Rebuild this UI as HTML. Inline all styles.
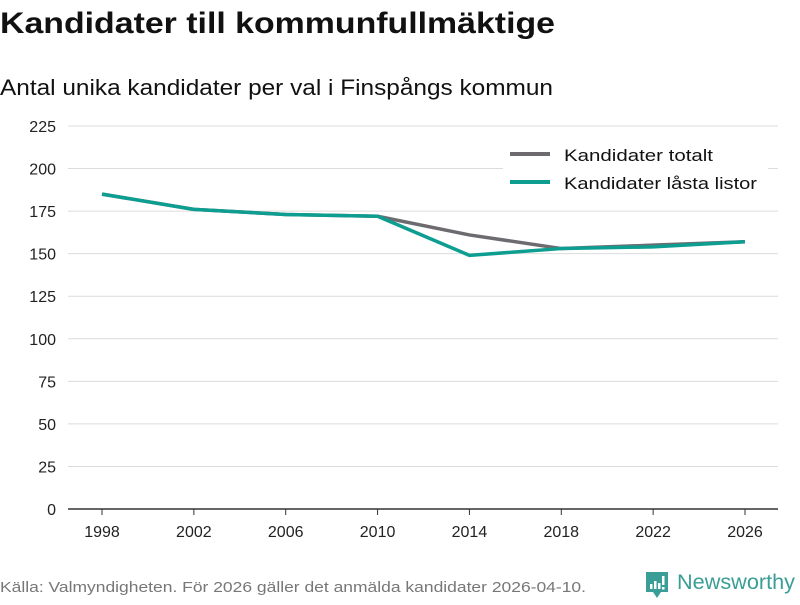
<!DOCTYPE html>
<html><head><meta charset="utf-8"><style>
html,body{margin:0;padding:0;background:#fff;}
svg text{font-family:"Liberation Sans","DejaVu Sans",sans-serif;}
</style></head><body>
<svg id="chart" width="800" height="600" viewBox="0 0 800 600">
<text x="0" y="33" font-size="30" font-weight="bold" fill="#111" textLength="555" lengthAdjust="spacingAndGlyphs">Kandidater till kommunfullmäktige</text>
<text x="0" y="95" font-size="22" fill="#111" textLength="553" lengthAdjust="spacingAndGlyphs">Antal unika kandidater per val i Finspångs kommun</text>
<g id="grid"></g>
<g id="yaxis"></g>
<g id="xaxis"></g>
<g id="series"></g>
<g>
<rect x="503" y="143" width="265" height="56" fill="#fff"/>
<g>
<line x1="510" y1="154" x2="550" y2="154" stroke="#6d6b70" stroke-width="4"/>
<text x="564" y="161" font-size="17" fill="#111" textLength="149" lengthAdjust="spacingAndGlyphs">Kandidater totalt</text></g>
<g>
<line x1="510" y1="182" x2="550" y2="182" stroke="#0e9e91" stroke-width="4"/>
<text x="564" y="189" font-size="17" fill="#111" textLength="193" lengthAdjust="spacingAndGlyphs">Kandidater låsta listor</text></g>
</g>
<text x="0" y="592" font-size="15" fill="#777" textLength="586" lengthAdjust="spacingAndGlyphs">Källa: Valmyndigheten. För 2026 gäller det anmälda kandidater 2026-04-10.</text>
<g>
<path d="M646 572 h22 v20 h-7 l-4 6 l-4 -6 h-7 z" fill="#3a9e96"/>
<rect x="650" y="584" width="2.5" height="5" fill="#fff"/><rect x="654" y="581" width="2.5" height="8" fill="#fff"/><rect x="658" y="583" width="2.5" height="6" fill="#fff"/><rect x="662" y="576" width="2.5" height="9" fill="#fff"/><rect x="662" y="587" width="2.5" height="2.5" fill="#fff"/>
<text x="677" y="589" font-size="21" fill="#3a9e96" textLength="118" lengthAdjust="spacingAndGlyphs">Newsworthy</text>
</g>
</svg>
<script>
const years = [1998, 2002, 2006, 2010, 2014, 2018, 2022, 2026];
const totalt = [185, 176, 173, 172, 161, 153, 155, 157];
const lasta = [185, 176, 173, 172, 149, 153, 154, 157];
const yTicks = [0, 25, 50, 75, 100, 125, 150, 175, 200, 225];
const NS = "http://www.w3.org/2000/svg";
const x = v => 102 + (v - 1998) * (643 / 28);
const y = v => 509 - v * (383 / 225);
function mk(tag, attrs, parent) {
  const e = document.createElementNS(NS, tag);
  for (const k in attrs) e.setAttribute(k, attrs[k]);
  parent.appendChild(e); return e;
}
const grid = document.getElementById('grid'), ya = document.getElementById('yaxis'), xa = document.getElementById('xaxis'), se = document.getElementById('series');
yTicks.forEach(t => {
  if (t > 0) {
    const l = mk('line', {x1: 68, x2: 778, y1: y(t), y2: y(t), stroke: '#dcdcdc', 'stroke-width': 1}, grid);
    
    
  }
  const tx = mk('text', {x: 56, y: y(t) + 6, 'font-size': 16, fill: '#222', 'text-anchor': 'end'}, ya);
  tx.textContent = t;
  
  
});
const base = mk('line', {x1: 68, x2: 778, y1: y(0), y2: y(0), stroke: '#333', 'stroke-width': 1.5}, xa);


years.forEach(yr => {
  mk('line', {x1: x(yr), x2: x(yr), y1: y(0), y2: y(0) + 6, stroke: '#333'}, xa);
  const tx = mk('text', {x: x(yr), y: 537, 'font-size': 16, fill: '#222', 'text-anchor': 'middle'}, xa);
  tx.textContent = yr;
  
  
});
function line(vals, color, name) {
  const p = mk('polyline', {points: vals.map((v, i) => x(years[i]) + ',' + y(v)).join(' '), fill: 'none', stroke: color, 'stroke-width': 3.5, 'stroke-linejoin': 'round'}, se);
  
  
}
line(totalt, '#6d6b70', 'line-kandidater-totalt');
line(lasta, '#0e9e91', 'line-kandidater-lasta-listor');
</script>
</body></html>
